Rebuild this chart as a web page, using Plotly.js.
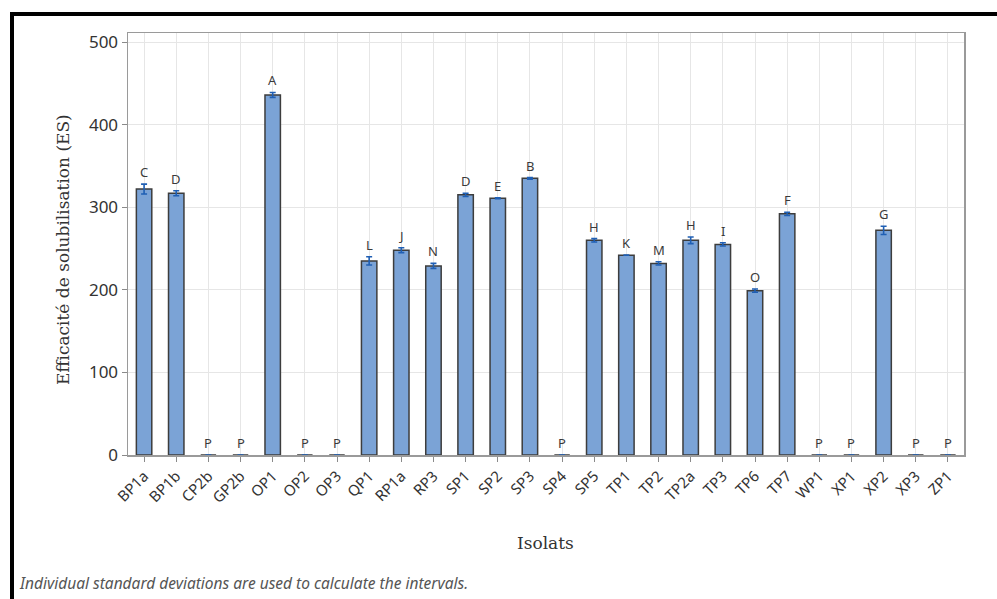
<!DOCTYPE html>
<html>
<head>
<meta charset="utf-8">
<script src="https://cdn.plot.ly/plotly-3.0.1.min.js"></script>
<style>
html,body{margin:0;padding:0;background:#fff;}
#chart{width:997px;height:599px;}
</style>
</head>
<body>
<div id="chart"></div>
<script>
const isolats = ["BP1a","BP1b","CP2b","GP2b","OP1","OP2","OP3","QP1","RP1a","RP3","SP1","SP2","SP3","SP4","SP5","TP1","TP2","TP2a","TP3","TP6","TP7","WP1","XP1","XP2","XP3","ZP1"];
const es = [322,317,0,0,436,0,0,235,248,229,315,311,335,0,260,242,232,260,255,199,292,0,0,272,0,0];
const ecartType = [6,3,0,0,3,0,0,5,3,3,2,0.5,1,0,2,0,2,4,2,2,2,0,0,5,0,0];
const groupes = ["C","D","P","P","A","P","P","L","J","N","D","E","B","P","H","K","M","H","I","O","F","P","P","G","P","P"];
const yTicks = [0,100,200,300,400,500];
const xTitle = "Isolats";
const yTitle = "Efficacité de solubilisation (ES)";
const note = "Individual standard deviations are used to calculate the intervals.";

const L = 128, R = 964, T = 33, B = 455, W = 997, H = 599;
const px = x => (x - L) / (R - L);
const py = y => (B - y) / (B - T);

const trace = {
  type: "bar",
  x: isolats,
  y: es,
  width: 0.48,
  marker: {color: "#7ba3d6", line: {color: "#3d3d3d", width: 1.5}},
  error_y: {type: "data", array: ecartType, visible: true, color: "#1f5fb4", thickness: 1.6, width: 3},
  hoverinfo: "skip"
};

const annotations = isolats.map((c, i) => ({
  x: c, y: es[i] + ecartType[i], xref: "x", yref: "y",
  text: groupes[i], showarrow: false, yanchor: "bottom", yshift: 1,
  font: {family: "Noto Sans, sans-serif", size: 13, color: "#3a3a3a"}
}));
annotations.push({
  xref: "paper", yref: "paper", x: px(17), y: py(583), xanchor: "left", yanchor: "middle",
  text: "<i>" + note + "</i>", showarrow: false,
  font: {family: "Noto Sans, sans-serif", size: 15.5, color: "#555555"}
});
annotations.push({
  xref: "paper", yref: "paper", x: px(545), y: py(543), xanchor: "center", yanchor: "middle",
  text: xTitle, showarrow: false,
  font: {family: "DejaVu Serif, serif", size: 17, color: "#333"}
});
annotations.push({
  xref: "paper", yref: "paper", x: px(63), y: py(250), xanchor: "center", yanchor: "middle",
  text: yTitle, showarrow: false, textangle: -90,
  font: {family: "DejaVu Serif, serif", size: 17, color: "#333"}
});

const layout = {
  width: W, height: H,
  margin: {l: L, r: W - R, t: T, b: H - B, pad: 0},
  paper_bgcolor: "#ffffff", plot_bgcolor: "#ffffff",
  showlegend: false,
  xaxis: {
    type: "category",
    range: [-0.5, isolats.length - 0.5],
    showgrid: true, gridcolor: "#e6e6e6", gridwidth: 1,
    showline: true, linecolor: "#9a9a9a", linewidth: 1.5, mirror: true,
    ticks: "outside", ticklen: 5, tickcolor: "#8a8a8a",
    tickangle: -45,
    tickfont: {family: "Noto Sans, sans-serif", size: 15, color: "#333"},
    zeroline: false
  },
  yaxis: {
    range: [0, 511],
    tickvals: yTicks,
    ticktext: yTicks.map(String),
    showgrid: true, gridcolor: "#e6e6e6", gridwidth: 1,
    showline: true, linecolor: "#9a9a9a", linewidth: 1.5, mirror: true,
    ticks: "outside", ticklen: 5, tickcolor: "#8a8a8a",
    tickfont: {family: "Noto Sans, sans-serif", size: 17, color: "#333"},
    zeroline: false
  },
  annotations: annotations,
  shapes: [
    {type: "line", xref: "paper", yref: "paper", x0: px(10), x1: px(997), y0: py(14), y1: py(14), line: {color: "#000", width: 4}},
    {type: "line", xref: "paper", yref: "paper", x0: px(12), x1: px(12), y0: py(12), y1: py(599), line: {color: "#000", width: 4}}
  ]
};

Plotly.newPlot("chart", [trace], layout, {displayModeBar: false, staticPlot: true});
</script>
</body>
</html>
